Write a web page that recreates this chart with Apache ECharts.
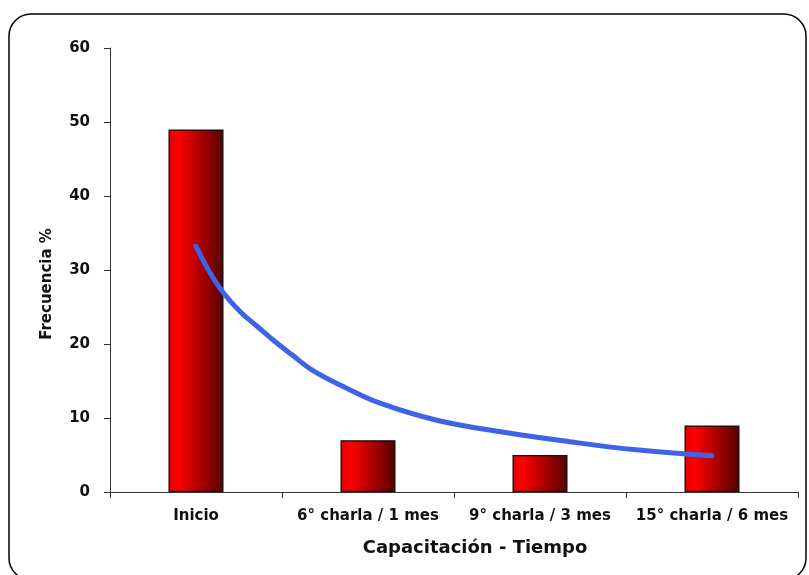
<!DOCTYPE html>
<html>
<head>
<meta charset="utf-8">
<script src="https://cdn.jsdelivr.net/npm/echarts@6/dist/echarts.min.js"></script>
<style>html,body{margin:0;padding:0;background:#fff}#c{width:809px;height:575px}</style>
</head>
<body>
<div id="c"></div>
<script>
var categories = ['Inicio', '6° charla / 1 mes', '9° charla / 3 mes', '15° charla / 6 mes'];
var frecuencia = [49, 7, 5, 9];
var yTicks = [0, 10, 20, 30, 40, 50, 60];
// trend curve: [category position, value]
var trendX = [0, 0.08, 0.16, 0.26, 0.36, 0.45, 0.56, 0.68, 0.87, 1.07, 1.4, 1.78, 2.17, 2.56, 3.0];
var trendY = [33.2, 29.7, 26.9, 24.3, 22.3, 20.5, 18.5, 16.4, 14.1, 12.0, 9.7, 8.1, 6.8, 5.7, 4.9];

var trend = trendX.map(function (x, i) { return [x, trendY[i]]; });
var FONT = '"DejaVu Sans", sans-serif';
var chart = echarts.init(document.getElementById('c'));
chart.setOption({
  animation: false,
  backgroundColor: '#fff',
  graphic: [{
    type: 'rect', silent: true, z: -1,
    shape: { x: 9, y: 14, width: 797, height: 566, r: 22 },
    style: { fill: 'none', stroke: '#000', lineWidth: 1.5 }
  }],
  grid: { left: 110, right: 11, top: 48, bottom: 83 },
  xAxis: [{
    type: 'category',
    data: categories,
    name: 'Capacitación - Tiempo',
    nameLocation: 'middle',
    nameGap: 47,
    nameTextStyle: { fontFamily: FONT, fontWeight: 'bold', fontSize: 18, color: '#111', padding: [0, 0, 0, 42] },
    axisLine: { lineStyle: { color: '#333', width: 1 } },
    axisTick: { show: true, length: 6, lineStyle: { color: '#333' } },
    axisLabel: { interval: 0, fontFamily: FONT, fontWeight: 'bold', fontSize: 15, color: '#111', margin: 17 }
  }, {
    type: 'value', min: -0.5, max: 3.5, show: false
  }],
  yAxis: {
    type: 'value', min: yTicks[0], max: yTicks[yTicks.length - 1], interval: 10,
    name: 'Frecuencia %',
    nameLocation: 'middle',
    nameGap: 55,
    nameTextStyle: { fontFamily: FONT, fontWeight: 'bold', fontSize: 15, color: '#111', padding: [0, 28, 0, 0] },
    axisLine: { show: true, onZero: false, lineStyle: { color: '#333', width: 1 } },
    axisTick: { show: true, length: 6, lineStyle: { color: '#333' } },
    splitLine: { show: false },
    axisLabel: { fontFamily: FONT, fontWeight: 'bold', fontSize: 15, color: '#111', margin: 20 }
  },
  series: [{
    type: 'bar',
    data: frecuencia,
    barWidth: '32%',
    itemStyle: {
      borderColor: '#111', borderWidth: 1.3,
      color: new echarts.graphic.LinearGradient(0, 0, 1, 0, [
        { offset: 0, color: '#e00000' },
        { offset: 0.18, color: '#ff0000' },
        { offset: 1, color: '#550000' }
      ])
    }
  }, {
    type: 'line',
    xAxisIndex: 1,
    data: trend,
    smooth: 0.4,
    showSymbol: false,
    lineStyle: { color: '#3d63e6', width: 5, cap: 'round' },
    z: 5
  }]
});
</script>
</body>
</html>
